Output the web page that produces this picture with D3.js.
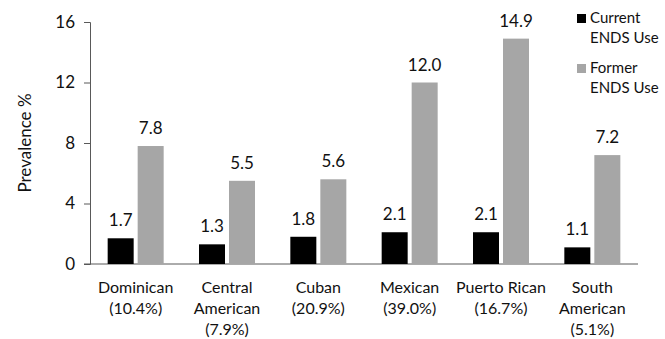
<!DOCTYPE html>
<html><head><meta charset="utf-8">
<script src="https://cdn.jsdelivr.net/npm/d3@7"></script>
<style>body{margin:0;background:#fff}svg{display:block;font-family:Lato,"Open Sans",sans-serif}</style>
</head><body><svg id="c" width="665" height="339"></svg>
<script>
const categories = [["Dominican","(10.4%)"],["Central","American","(7.9%)"],["Cuban","(20.9%)"],["Mexican","(39.0%)"],["Puerto Rican","(16.7%)"],["South","American","(5.1%)"]];
const current = [1.7,1.3,1.8,2.1,2.1,1.1];
const former = [7.8,5.5,5.6,12.0,14.9,7.2];
const seriesNames = [["Current","ENDS Use"],["Former","ENDS Use"]];
const yTicks = [0,4,8,12,16];
const colors = ["#000000","#a6a6a6"];

(function(){
const svg = d3.select("#c");
const mL=90, mR=638, mT=22, mB=264;
const ink="#111";
const x = d3.scaleBand().domain(d3.range(categories.length)).range([mL,mR]);
const y = d3.scaleLinear().domain([0,16]).range([mB,mT]);
const bw = 26, gap = 4;

const ya = svg.append("g").attr("transform",`translate(${mL},0)`)
  .call(d3.axisLeft(y).tickValues(yTicks).tickSize(6).tickPadding(9).tickFormat(d3.format("d")));
ya.selectAll("path,line").attr("stroke","#595959");
ya.selectAll("text").attr("font-size",17).attr("fill",ink).attr("font-family","Lato,sans-serif");
svg.append("line").attr("x1",mL-6).attr("x2",mR).attr("y1",mB).attr("y2",mB).attr("stroke","#595959");

svg.append("text").attr("transform",`translate(31,${(mT+mB)/2}) rotate(-90)`)
  .attr("text-anchor","middle").attr("font-size",17).attr("fill",ink).text("Prevalence %");

const series=[current,former];
series.forEach((s,si)=>{
  const g=svg.append("g");
  s.forEach((v,i)=>{
    const cx=x(i)+x.bandwidth()/2;
    const bx = si===0 ? cx-gap/2-bw : cx+gap/2;
    g.append("rect").attr("x",bx).attr("y",y(v)).attr("width",bw).attr("height",y(0)-y(v)).attr("fill",colors[si]);
    g.append("text").attr("x",bx+bw/2).attr("y",y(v)-12).attr("text-anchor","middle")
      .attr("font-size",17).attr("fill",ink).text(v.toFixed(1));
  });
});

categories.forEach((lines,i)=>{
  const t=svg.append("text").attr("text-anchor","middle").attr("font-size",16).attr("fill",ink);
  lines.forEach((l,j)=>t.append("tspan").attr("x",x(i)+x.bandwidth()/2).attr("y",293+j*21).text(l));
});

seriesNames.forEach((n,i)=>{
  const gy=14+i*50;
  svg.append("rect").attr("x",577).attr("y",gy).attr("width",9).attr("height",9).attr("fill",colors[i]);
  const t=svg.append("text").attr("font-size",15).attr("fill",ink);
  n.forEach((l,j)=>t.append("tspan").attr("x",590).attr("y",gy+9+j*20).text(l));
});
})();
</script></body></html>
